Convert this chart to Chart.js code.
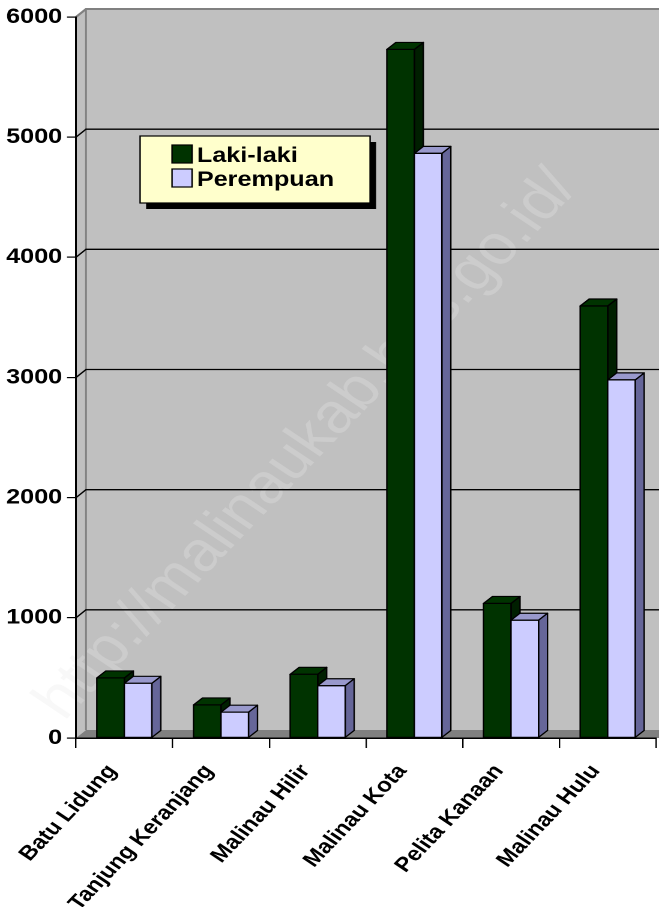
<!DOCTYPE html>
<html>
<head>
<meta charset="utf-8">
<script src="https://cdn.jsdelivr.net/npm/chart.js@4"></script>
<style>
  html, body { margin: 0; padding: 0; background: #ffffff; overflow: hidden; }
  #c { display: block; }
</style>
</head>
<body>
<canvas id="c" width="549" height="907" style="width:659px;height:907px;"></canvas>
<script>
// ---- data ----
const categories = ['Batu Lidung', 'Tanjung Keranjang', 'Malinau Hilir', 'Malinau Kota', 'Pelita Kanaan', 'Malinau Hulu'];
const lakiLaki   = [500, 275, 530, 5730, 1120, 3595];
const perempuan  = [455, 215, 435, 4865, 980, 2980];
const seriesNames = ['Laki-laki', 'Perempuan'];
const yMin = 0, yMax = 6000, yStep = 1000;
const watermark = 'http://malinaukab.bps.go.id/';

// ---- styling ----
const SX = 659 / 549;            // horizontal stretch applied by CSS
const FONT = '"Liberation Sans", Arial, sans-serif';
const frontColors = ['#003300', '#CCCCFF'];
const topColors   = ['#003300', '#9999CC'];
const sideColors  = ['#001f00', '#666699'];
const WALL_DX = 10 / SX, WALL_DY = 8;
const BAR_DX = 9 / SX, BAR_DY = 7;

const wallPlugin = {
  id: 'wall3d',
  beforeDraw(chart) {
    const ctx = chart.ctx;
    const {left, right, top, bottom} = chart.chartArea;
    const y = chart.scales.y;
    ctx.save();
    ctx.fillStyle = '#ffffff';
    ctx.fillRect(0, 0, chart.width, chart.height);
    // back wall
    ctx.fillStyle = '#C0C0C0';
    ctx.fillRect(left + WALL_DX, top - WALL_DY, chart.width - left, bottom - top);
    // side wall
    ctx.beginPath();
    ctx.moveTo(left, top); ctx.lineTo(left + WALL_DX, top - WALL_DY);
    ctx.lineTo(left + WALL_DX, bottom - WALL_DY); ctx.lineTo(left, bottom);
    ctx.closePath(); ctx.fill();
    // watermark
    ctx.save();
    ctx.translate(256, 445);
    ctx.rotate(-Math.atan(Math.tan(46 * Math.PI / 180) * SX));
    ctx.font = '56px ' + FONT;
    ctx.textAlign = 'center'; ctx.textBaseline = 'middle';
    ctx.fillStyle = 'rgba(232,232,232,0.3)';
    ctx.fillText(watermark, 0, 0);
    ctx.restore();
    // floor
    ctx.fillStyle = '#808080';
    ctx.beginPath();
    ctx.moveTo(left, bottom); ctx.lineTo(left + WALL_DX, bottom - WALL_DY);
    ctx.lineTo(chart.width + 20, bottom - WALL_DY); ctx.lineTo(chart.width + 20, bottom);
    ctx.closePath(); ctx.fill();
    // wall edges
    ctx.strokeStyle = '#808080'; ctx.lineWidth = 1.5;
    ctx.beginPath();
    ctx.moveTo(left + WALL_DX, top - WALL_DY); ctx.lineTo(left + WALL_DX, bottom - WALL_DY);
    ctx.stroke();
    ctx.lineWidth = 2;
    ctx.beginPath();
    ctx.moveTo(left, top); ctx.lineTo(left + WALL_DX, top - WALL_DY); ctx.lineTo(chart.width + 5, top - WALL_DY);
    ctx.stroke();
    // gridlines on the walls
    ctx.strokeStyle = '#000000'; ctx.lineWidth = 1.3;
    for (let v = yMin + yStep; v < yMax; v += yStep) {
      const py = y.getPixelForValue(v);
      ctx.beginPath();
      ctx.moveTo(left, py); ctx.lineTo(left + WALL_DX, py - WALL_DY); ctx.lineTo(chart.width + 5, py - WALL_DY);
      ctx.stroke();
    }
    ctx.restore();
  },
  afterDatasetsDraw(chart) {
    const ctx = chart.ctx;
    const metas = chart.data.datasets.map((d, i) => chart.getDatasetMeta(i));
    ctx.save();
    ctx.strokeStyle = '#000000';
    ctx.lineWidth = 1.2;
    ctx.lineJoin = 'round';
    for (let i = 0; i < categories.length; i++) {
      metas.forEach((meta, di) => {
        const el = meta.data[i];
        const {x, y, base, width} = el.getProps(['x', 'y', 'base', 'width'], true);
        const l = x - width / 2, r = x + width / 2;
        // side
        ctx.fillStyle = sideColors[di];
        ctx.beginPath();
        ctx.moveTo(r, y); ctx.lineTo(r + BAR_DX, y - BAR_DY);
        ctx.lineTo(r + BAR_DX, base - BAR_DY); ctx.lineTo(r, base);
        ctx.closePath(); ctx.fill(); ctx.stroke();
        // top
        ctx.fillStyle = topColors[di];
        ctx.beginPath();
        ctx.moveTo(l, y); ctx.lineTo(l + BAR_DX, y - BAR_DY);
        ctx.lineTo(r + BAR_DX, y - BAR_DY); ctx.lineTo(r, y);
        ctx.closePath(); ctx.fill(); ctx.stroke();
        // front
        ctx.fillStyle = frontColors[di];
        ctx.beginPath();
        ctx.rect(l, y, width, base - y);
        ctx.fill(); ctx.stroke();
      });
    }
    ctx.restore();
  },
  afterDraw(chart) {
    const ctx = chart.ctx;
    ctx.save();
    const bx = 116.7, by = 136, bw = 191.6, bh = 67;
    ctx.fillStyle = '#000000';
    ctx.fillRect(bx + 5, by + 6, bw, bh);
    ctx.fillStyle = '#FFFFCC';
    ctx.fillRect(bx, by, bw, bh);
    ctx.strokeStyle = '#000000'; ctx.lineWidth = 1.2;
    ctx.strokeRect(bx, by, bw, bh);
    const rows = [{sy: 145, ty: 162}, {sy: 169, ty: 186}];
    chart.data.datasets.forEach((ds, i) => {
      ctx.fillStyle = frontColors[i];
      ctx.fillRect(143.3, rows[i].sy, 16.7, 18);
      ctx.strokeRect(143.3, rows[i].sy, 16.7, 18);
      ctx.fillStyle = '#000000';
      ctx.font = 'bold 21px ' + FONT;
      ctx.textAlign = 'left'; ctx.textBaseline = 'alphabetic';
      ctx.fillText(ds.label, 164, rows[i].ty);
    });
    ctx.restore();
  }
};

new Chart(document.getElementById('c'), {
  type: 'bar',
  data: {
    labels: categories,
    datasets: [
      { label: seriesNames[0], data: lakiLaki, backgroundColor: frontColors[0], borderColor: '#000', borderWidth: 1 },
      { label: seriesNames[1], data: perempuan, backgroundColor: frontColors[1], borderColor: '#000', borderWidth: 1 }
    ]
  },
  options: {
    responsive: false,
    animation: false,
    devicePixelRatio: 2,
    layout: { padding: { top: 17, right: 2.5, left: 0, bottom: 0 } },
    datasets: { bar: { categoryPercentage: 0.569, barPercentage: 1.0 } },
    plugins: { legend: { display: false }, tooltip: { enabled: false } },
    scales: {
      x: {
        grid: { display: true, drawOnChartArea: false, drawTicks: true, tickLength: 10, color: '#000', lineWidth: 1.2, offset: true },
        border: { display: true, color: '#000', width: 1.5 },
        ticks: {
          color: '#000', autoSkip: false,
          minRotation: 51.2, maxRotation: 51.2,
          padding: 12, labelOffset: -10,
          font: { family: FONT, size: 20, weight: 'bold' }
        },
        afterFit(s) { s.height = 169; }
      },
      y: {
        min: yMin, max: yMax,
        grid: { drawOnChartArea: false, drawTicks: true, tickLength: 7.5, color: '#000', lineWidth: 1.2 },
        border: { display: true, color: '#000', width: 1.5 },
        ticks: {
          stepSize: yStep, color: '#000', padding: 4,
          font: { family: FONT, size: 21, weight: 'bold' },
          callback: v => String(v)
        },
        afterFit(s) { s.width = 63.3; }
      }
    }
  },
  plugins: [wallPlugin]
});
</script>
</body>
</html>
